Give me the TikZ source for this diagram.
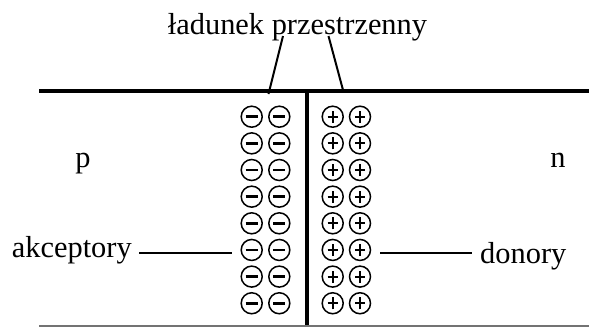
\documentclass[tikz,border=0pt]{standalone}
\usepackage{fontspec}
\setmainfont{Liberation Serif}
\begin{document}
\begin{tikzpicture}[x=1pt,y=-1pt,
  lbl/.style={font=\fontsize{30.4}{36}\selectfont, inner sep=0pt},
  conn/.style={line width=2pt},
  minusc/.style={circle, draw, line width=1.5pt, minimum size=21pt, inner sep=0pt,
    path picture={\draw[line width=2.5pt] ([xshift=-6pt]path picture bounding box.center) -- ([xshift=6pt]path picture bounding box.center);}},
  plusc/.style={circle, draw, line width=1.5pt, minimum size=21pt, inner sep=0pt,
    path picture={\draw[line width=2.2pt] ([xshift=-5pt]path picture bounding box.center) -- ([xshift=5pt]path picture bounding box.center);
                  \draw[line width=2.2pt] ([yshift=-6pt]path picture bounding box.center) -- ([yshift=6pt]path picture bounding box.center);}}]
\useasboundingbox (0,0) rectangle (589,327);
% junction lines
\coordinate (tl) at (39,90.5);
\coordinate (tr) at (589,90.5);
\coordinate (vt) at (307,89);
\coordinate (vb) at (307,327);
\coordinate (bl) at (39,325.5);
\coordinate (br) at (589,325.5);
\draw[line width=4pt] (tl) -- (tr);
\draw[line width=4pt] (vt) -- (vb);
\draw[line width=2pt, black!55] (bl) -- (br);
% charges
\foreach \i in {0,...,7}{
  \pgfmathsetmacro{\yy}{116.7+26.65*\i}
  \node[minusc] (ma\i) at (251.7,\yy) {};
  \node[minusc] (mb\i) at (279.3,\yy) {};
  \node[plusc] (pa\i) at (332.7,\yy) {};
  \node[plusc] (pb\i) at (360,\yy) {};
}
% labels
\node[lbl, anchor=base] (lad) at (297.5,34) {ładunek przestrzenny};
\node[lbl, anchor=base] (p) at (83,167) {p};
\node[lbl, anchor=base] (n) at (558,167) {n};
\node[lbl, anchor=base west] (akc) at (11.7,257) {akceptory};
\node[lbl, anchor=base west] (don) at (480,263) {donory};
% connectors
\coordinate (s1) at (283,36);
\coordinate (e1) at (268.5,94);
\coordinate (s2) at (328.5,36);
\coordinate (e2) at (343,90);
\draw[conn] (s1) -- (e1);
\draw[conn] (s2) -- (e2);
\coordinate (a1) at (139,253.3);
\coordinate (a2) at (232,253.3);
\draw[conn] (a1) -- (a2);
\coordinate (d1) at (380,253.3);
\coordinate (d2) at (472,253.3);
\draw[conn] (d1) -- (d2);
\end{tikzpicture}
\end{document}
